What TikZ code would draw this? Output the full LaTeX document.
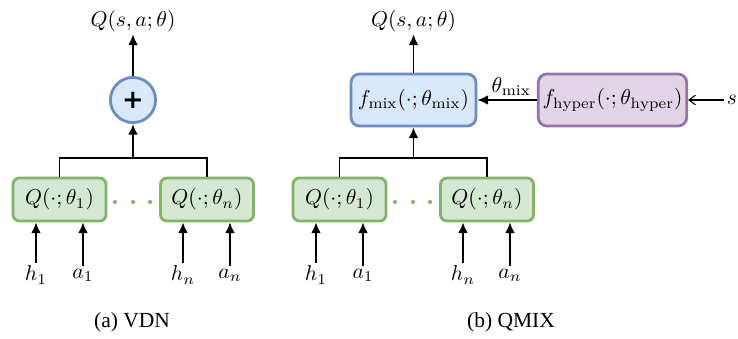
\documentclass[tikz,border=0pt]{standalone}
\usepackage{amsmath,amssymb}
\usepackage{fontspec}
\newfontfamily\capfont{Liberation Serif}
\newfontfamily\plusfont{DejaVu Sans}
\usepackage{tikz}
\usetikzlibrary{arrows.meta,positioning}
\definecolor{QGreen}{RGB}{130,179,102}
\definecolor{QGreenFill}{RGB}{213,232,212}
\definecolor{MixBlue}{RGB}{108,142,191}
\definecolor{MixBlueFill}{RGB}{218,232,252}
\definecolor{HypPurple}{RGB}{150,115,166}
\definecolor{HypPurpleFill}{RGB}{225,213,231}

\begin{document}
\begin{tikzpicture}[x=0.4651pt, y=-0.4651pt, >={Latex[length=5pt,width=4.6pt]},
  qnet/.style={draw=QGreen, line width=1.3pt, rounded corners=3pt, fill=QGreenFill,
               minimum width=43.3pt, minimum height=20pt, inner sep=2pt},
  mixer/.style={draw=MixBlue, line width=1.3pt, rounded corners=4pt, fill=MixBlueFill,
                minimum width=58.1pt, minimum height=24.2pt, inner sep=2pt},
  hyper/.style={draw=HypPurple, line width=1.3pt, rounded corners=4pt, fill=HypPurpleFill,
                minimum width=68.4pt, minimum height=24.2pt, inner sep=2pt},
  sumc/.style={draw=MixBlue, line width=1.3pt, circle, fill=MixBlueFill,
               minimum size=21pt, inner sep=0pt, font=\plusfont\bfseries\large},
  sig/.style={->, line width=0.9pt},
  sarr/.style={-{Straight Barb[length=3pt,width=4.5pt]}, line width=0.5pt},
  bus/.style={line width=0.9pt},
  lab/.style={inner sep=1pt},
  subcap/.style={font=\capfont}]
  \useasboundingbox (0,0) rectangle (738,338);

  % --- (a) VDN ---
  \node[qnet] (vq1) at (59.5,199.5) {$Q(\cdot;\theta_1)$};
  \node[qnet] (vqn) at (207,199.5)  {$Q(\cdot;\theta_n)$};
  \node[sumc] (vsum) at (133,100) {+};
  \node[lab] (vout) at (133,21) {$Q(s,a;\theta)$};
  \coordinate (vbus) at (133,158);
  \draw[bus] (vq1.north) |- (vbus) -| (vqn.north);
  \draw[sig] (vbus) -- (vsum);
  \draw[sig] (vsum) -- (vout);
  \foreach \x in {115,133,150} \fill[QGreen] (\x,202) circle (0.95pt);

  \node[lab] (vh1) at (36,275)  {$h_1$};
  \node[lab] (va1) at (83,275)  {$a_1$};
  \node[lab] (vhn) at (183,275) {$h_n$};
  \node[lab] (van) at (230,275) {$a_n$};
  \draw[sig] (vh1) -- (vh1 |- vq1.south);
  \draw[sig] (va1) -- (va1 |- vq1.south);
  \draw[sig] (vhn) -- (vhn |- vqn.south);
  \draw[sig] (van) -- (van |- vqn.south);

  % --- (b) QMIX ---
  \node[qnet] (mq1) at (339.5,199.5) {$Q(\cdot;\theta_1)$};
  \node[qnet] (mqn) at (487,199.5)   {$Q(\cdot;\theta_n)$};
  \node[mixer] (mix) at (413.5,100) {$f_{\mathrm{mix}}(\cdot;\theta_{\mathrm{mix}})$};
  \node[hyper] (hyp) at (612.5,100) {$f_{\mathrm{hyper}}(\cdot;\theta_{\mathrm{hyper}})$};
  \node[lab] (mout) at (413.5,21) {$Q(s,a;\theta)$};
  \node[lab] (st) at (732,100) {$s$};
  \coordinate (mbus) at (413.5,158);
  \draw[bus] (mq1.north) |- (mbus) -| (mqn.north);
  \draw[sig] (mbus) -- (mix);
  \draw[sig] (mix) -- (mout);
  \draw[sig] (hyp) -- node[above, inner sep=1.5pt, pos=0.43]{$\theta_{\mathrm{mix}}$} (mix);
  \draw[sarr] (st) -- (hyp);
  \foreach \x in {395,413,430} \fill[QGreen] (\x,202) circle (0.95pt);

  \node[lab] (mh1) at (316,275) {$h_1$};
  \node[lab] (ma1) at (363,275) {$a_1$};
  \node[lab] (mhn) at (463,275) {$h_n$};
  \node[lab] (man) at (510,275) {$a_n$};
  \draw[sig] (mh1) -- (mh1 |- mq1.south);
  \draw[sig] (ma1) -- (ma1 |- mq1.south);
  \draw[sig] (mhn) -- (mhn |- mqn.south);
  \draw[sig] (man) -- (man |- mqn.south);

  % --- captions ---
  \node[subcap] (capa) at (132,322) {(a) VDN};
  \node[subcap] (capb) at (511,322) {(b) QMIX};
\end{tikzpicture}
\end{document}
